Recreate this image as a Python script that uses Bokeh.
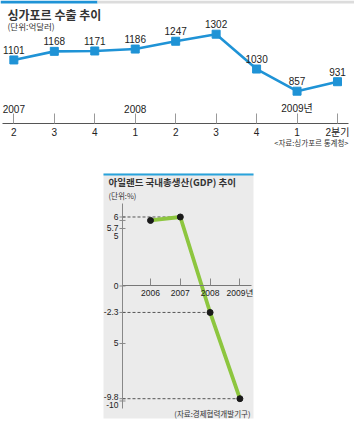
from bokeh.plotting import figure
from bokeh.models import (Range1d, LabelSet, Label, ColumnDataSource, FixedTicker,
                          BoxAnnotation, LinearAxis)
from bokeh.embed import file_html
from bokeh.resources import INLINE
from bokeh.core.properties import value

# ---------------- data ----------------
# Singapore exports (100 million USD), quarterly
sg_quarters = ["2", "3", "4", "1", "2", "3", "4", "1", "2분기"]
sg_exports = [1101, 1168, 1171, 1186, 1247, 1302, 1030, 857, 931]
sg_year_labels = ["2007", "2008", "2009년"]
sg_year_at = [0, 3, 7]  # quarter index where each year begins

# Ireland GDP growth (%)
ie_years = [2006, 2007, 2008, 2009]
ie_year_labels = ["2006", "2007", "2008", "2009년"]
ie_gdp = [5.7, 6.0, -2.3, -9.8]
ie_yticks = [6, 5.7, 5, 0, -2.3, -5, -9.8, -10]
ie_ytick_labels = ["6", "5.7", "5", "0", "-2.3", "5", "-9.8", "-10"]

# ---------------- styles ----------------
BLUE = "#1f93d6"
GREEN = "#8dc63f"
PANEL = "#ebebeb"
KR = "Noto Sans CJK KR"
NUM = "'Liberation Sans', 'Noto Sans CJK KR', sans-serif"
TXT = "#222222"
W, H = 354, 423


def screen_box(l, r, t, b, color, level="annotation"):
    return BoxAnnotation(left=l, right=r, top=t, bottom=b,
                         left_units="screen", right_units="screen",
                         top_units="screen", bottom_units="screen",
                         fill_color=color, fill_alpha=1, line_alpha=0,
                         line_color=None, level=level)


def screen_label(x, y, text, size, bold=False, align="left"):
    return Label(x=x, y=y, x_units="screen", y_units="screen", text=text,
                 text_font=KR, text_font_size=size,
                 text_font_style="bold" if bold else "normal",
                 text_color="#333333", text_align=align, text_baseline="middle")


# One canvas; the Singapore chart uses the default ranges, the Ireland chart
# uses its own pair of extra ranges.
p = figure(width=W, height=H, output_backend="svg", toolbar_location=None,
           x_range=Range1d(-0.33, 8.42), y_range=Range1d(-1737, 1565),
           y_axis_location=None, min_border=0)
p.outline_line_color = None
p.grid.visible = False
p.extra_x_ranges = {"iex": Range1d(2000.966, 2012.846)}
p.extra_y_ranges = {"iey": Range1d(-11.957, 24.826)}

# ---------------- top chart (Singapore) ----------------
idx = list(range(len(sg_exports)))

p.add_layout(screen_box(0, 97, H, H - 3, BLUE))
p.add_layout(screen_box(97, W, H, H - 3, "#dcdcdc"))

src1 = ColumnDataSource(dict(x=idx, y=sg_exports, lab=[str(v) for v in sg_exports]))
p.line("x", "y", source=src1, line_color=BLUE, line_width=2.6)
p.scatter("x", "y", source=src1, marker="square", size=8, fill_color=BLUE, line_color=BLUE)
p.add_layout(LabelSet(x="x", y="y", text="lab", source=src1, y_offset=6,
                      text_align="center", text_baseline="bottom",
                      text_font=value(NUM), text_font_size="10px", text_color=TXT))

srcy = ColumnDataSource(dict(x=sg_year_at, t=sg_year_labels))
p.add_layout(LabelSet(x="x", y=H - 108, y_units="screen", text="t", source=srcy,
                      text_align="center", text_baseline="middle",
                      text_font=value(NUM), text_font_size="10px", text_color=TXT))

xa = p.xaxis[0]
xa.fixed_location = 605
xa.bounds = (-0.29, 8.27)
xa.ticker = FixedTicker(ticks=idx)
xa.major_label_overrides = {i: s for i, s in zip(idx, sg_quarters)}
xa.major_tick_in = 10
xa.major_tick_out = 0
xa.minor_tick_in = 0
xa.minor_tick_out = 0
xa.axis_line_color = "#555555"
xa.major_tick_line_color = "#999999"
xa.major_label_standoff = 4
xa.major_label_text_font = NUM
xa.major_label_text_font_size = "10px"
xa.major_label_text_color = TXT

p.add_layout(screen_label(7, H - 14, "싱가포르 수출 추이", "12px", bold=True))
p.add_layout(screen_label(7, H - 25, "(단위:억달러)", "8.5px"))
p.add_layout(screen_label(348, H - 142, "<자료:싱가포르 통계청>", "7.5px", align="right"))

# ---------------- bottom chart (Ireland) ----------------
R = dict(x_range_name="iex", y_range_name="iey")
x0 = 2005.06               # where the y axis sits
y_lo, y_hi = -10.65, 7.17  # extent of the drawn y axis

# grey panel with blue rule on top
p.add_layout(screen_box(103, 253, H - 173, H - 418, PANEL, level="underlay"))
p.add_layout(screen_box(103, 253, H - 173, H - 175, "#29a3dc"))

ya = LinearAxis(fixed_location=x0, bounds=(y_lo, y_hi), ticker=FixedTicker(ticks=[]),
                minor_tick_in=0, minor_tick_out=0, axis_line_color="#888888", **R)
p.add_layout(ya, "left")

xb = LinearAxis(fixed_location=0, bounds=(x0, 2009.39), ticker=FixedTicker(ticks=ie_years),
                major_label_overrides={y: s for y, s in zip(ie_years, ie_year_labels)},
                major_tick_in=7, major_tick_out=0, minor_tick_in=0, minor_tick_out=0,
                axis_line_color="#777777", major_tick_line_color="#888888",
                major_label_standoff=2, major_label_text_font=NUM,
                major_label_text_font_size="8.5px", major_label_text_color=TXT, **R)
p.add_layout(xb, "below")

# y tick marks at the values
p.scatter([x0] * len(ie_yticks), ie_yticks, marker="dash", size=6,
          line_color="#888888", line_width=1, **R)

# dashed guides from the y axis to the points
p.segment(x0=[x0] * 3, y0=ie_gdp[1:], x1=ie_years[1:], y1=ie_gdp[1:],
          line_color="#555555", line_width=1, line_dash="3 2", **R)

p.line(ie_years, ie_gdp, line_color=GREEN, line_width=3.8, **R)
p.scatter(ie_years, ie_gdp, marker="circle", size=6, fill_color="#1a1a1a",
          line_color="#1a1a1a", **R)

# y tick labels (nudged where values crowd)
label_nudge = [0, -8, -8, 0, 0, 0, 1.5, -4.5]
srcyt = ColumnDataSource(dict(x=[x0] * len(ie_yticks), y=ie_yticks, t=ie_ytick_labels,
                              dy=label_nudge))
p.add_layout(LabelSet(x="x", y="y", x_offset=-4, y_offset="dy", text="t", source=srcyt,
                      text_align="right", text_baseline="middle",
                      text_font=value(NUM), text_font_size="8.5px", text_color=TXT, **R))

p.add_layout(screen_label(108, H - 181.7, "아일랜드 국내총생산(GDP) 추이", "9.5px", bold=True))
p.add_layout(screen_label(108, H - 195, "(단위:%)", "7.5px"))
p.add_layout(screen_label(250, H - 412.7, "(자료:경제협력개발기구)", "7.5px", align="right"))

open("out.html", "w").write(file_html(p, INLINE))
